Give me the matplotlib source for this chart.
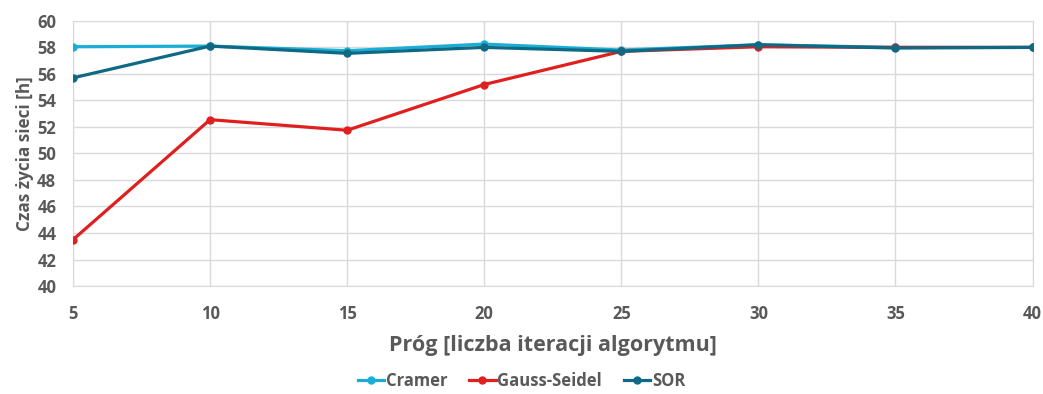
import numpy as np
import matplotlib.pyplot as plt

prog = [5, 10, 15, 20, 25, 30, 35, 40]
cramer = [58.05, 58.1, 57.75, 58.25, 57.8, 58.2, 58.0, 58.0]
gauss_seidel = [43.5, 52.55, 51.75, 55.2, 57.7, 58.05, 58.0, 58.0]
sor = [55.7, 58.1, 57.55, 58.0, 57.7, 58.2, 57.95, 58.0]

plt.rcParams['font.family'] = ['Open Sans', 'DejaVu Sans']
gray = '#595959'

fig = plt.figure(figsize=(10.43, 3.94), dpi=100)
ax = fig.add_axes([0.070, 0.274, 0.920, 0.673])

ax.plot(prog, cramer, color='#1AADD6', lw=2.3, marker='o', ms=5, label='Cramer', zorder=3)
ax.plot(prog, gauss_seidel, color='#E01F1F', lw=2.3, marker='o', ms=5, label='Gauss-Seidel', zorder=4)
ax.plot(prog, sor, color='#0E6A84', lw=2.3, marker='o', ms=5, label='SOR', zorder=5)

ax.set_xlim(5, 40)
ax.set_ylim(40, 60)
ax.set_xticks(prog)
ax.set_yticks(np.arange(40, 61, 2))
ax.grid(True, color='#d9d9d9', lw=1)
ax.set_axisbelow(True)
for s in ax.spines.values():
    s.set_color('#d9d9d9')
ax.tick_params(length=0, colors=gray, labelsize=12)
ax.tick_params(axis='x', pad=14)
ax.tick_params(axis='y', pad=12)
for lab in ax.get_xticklabels() + ax.get_yticklabels():
    lab.set_fontweight('bold')

ax.set_xlabel('Próg [liczba iteracji algorytmu]', fontsize=15.5, fontweight='bold', color=gray, labelpad=8)
ax.set_ylabel('Czas życia sieci [h]', fontsize=12.3, fontweight='bold', color=gray, labelpad=2)

leg = fig.legend(loc='center', bbox_to_anchor=(0.5, 0.033), ncol=3, frameon=False,
                 prop={'weight': 'bold', 'size': 12}, handlelength=1.6,
                 handletextpad=0.1, columnspacing=1.3)
for t in leg.get_texts():
    t.set_color(gray)

fig.savefig('out.png', dpi=100)
